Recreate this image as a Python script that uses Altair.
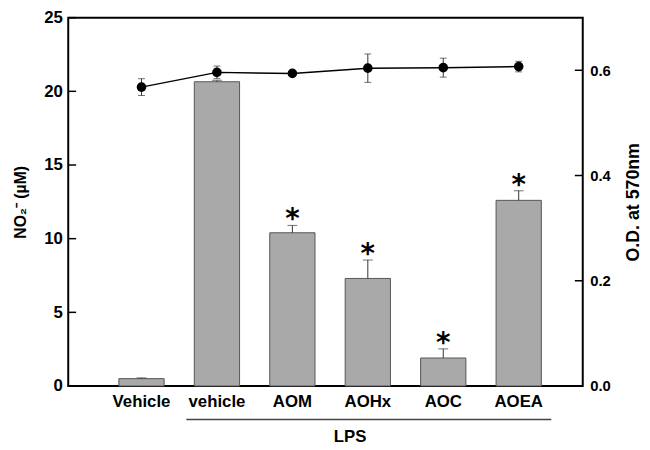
import altair as alt
import pandas as pd

categories = ["Vehicle", "vehicle", "AOM", "AOHx", "AOC", "AOEA"]
no2 = [0.5, 20.65, 10.4, 7.3, 1.9, 12.6]
no2_err = [0.05, 0.1, 0.5, 1.25, 0.62, 0.65]
sig = ["", "", "*", "*", "*", "*"]
od = [0.568, 0.596, 0.594, 0.604, 0.605, 0.607]
od_err = [0.016, 0.012, 0.003, 0.027, 0.018, 0.010]
ticks_left = [0, 5, 10, 15, 20, 25]
ticks_right = [0.0, 0.2, 0.4, 0.6]
group_label = ["LPS"]

df = pd.DataFrame({"cat": categories, "no2": no2, "no2_err": no2_err,
                   "sig": sig, "od": od, "od_err": od_err})
df["no2_hi"] = df["no2"] + df["no2_err"]
df["od_lo"] = df["od"] - df["od_err"]
df["od_hi"] = df["od"] + df["od_err"]

FONT = "Liberation Sans"
W, H = 521, 373

xscale = alt.Scale(domain=categories, paddingInner=0.4, paddingOuter=0.61, align=0.55)
xaxis = alt.Axis(title=None, labelAngle=0, ticks=False, domain=False,
                 labelFont=FONT, labelFontWeight="bold", labelFontSize=17,
                 labelPadding=8, labelColor="black")
X = alt.X("cat:N", scale=xscale, axis=xaxis)

yL = alt.Scale(domain=[0, 25], nice=False)
yR = alt.Scale(domain=[0, 0.7], nice=False)

axisL = alt.Axis(title="NO₂⁻ (µM)", values=ticks_left, ticks=False, domain=False,
                 grid=False, labelFont=FONT, labelFontWeight="bold", labelFontSize=17,
                 labelColor="black", labelPadding=6, titleFont=FONT,
                 titleFontWeight="bold", titleFontSize=16, titleColor="black",
                 titlePadding=15)
axisR = alt.Axis(title="O.D. at 570nm", orient="right", values=ticks_right, format=".1f",
                 ticks=False, domain=False, grid=False, labelFont=FONT,
                 labelFontWeight="bold", labelFontSize=15, labelColor="black",
                 labelPadding=7, titleFont=FONT, titleFontWeight="bold",
                 titleFontSize=18, titleColor="black", titleAngle=270, titlePadding=33)

base = alt.Chart(df)

bars = base.mark_bar(color="#a9a9a9", stroke="#555555", strokeWidth=1).encode(
    x=X, y=alt.Y("no2:Q", scale=yL, axis=axisL))
bar_err = base.mark_rule(color="#333333", strokeWidth=1).encode(
    x=X, y=alt.Y("no2:Q", scale=yL, axis=None), y2="no2_hi:Q")
bar_cap = base.mark_tick(size=10, thickness=1, color="#333333", orient="horizontal").encode(
    x=X, y=alt.Y("no2_hi:Q", scale=yL, axis=None))
stars = base.mark_text(font="DejaVu Sans", fontWeight="bold", fontSize=28,
                       baseline="alphabetic", dy=3, color="black").encode(
    x=X, y=alt.Y("no2_hi:Q", scale=yL, axis=None), text="sig:N")
tickL = alt.Chart(pd.DataFrame({"v": ticks_left})).mark_rule(color="black", strokeWidth=1.5).encode(
    y=alt.Y("v:Q", scale=yL, axis=None), x=alt.value(0), x2=alt.value(8))

lps_df = pd.DataFrame({"a": ["vehicle"], "b": ["AOEA"], "t": group_label, "m": ["AOHx"]})
lps_rule = alt.Chart(lps_df).mark_rule(color="#444444", strokeWidth=1.5,
                                       xOffset=-31, x2Offset=33).encode(
    x=alt.X("a:N", scale=xscale, axis=xaxis), x2="b:N",
    y=alt.value(407))
lps_text = alt.Chart(lps_df).mark_text(font=FONT, fontWeight="bold", fontSize=17,
                                       baseline="middle", dx=-18, color="black").encode(
    x=alt.X("m:N", scale=xscale, axis=xaxis), y=alt.value(425), text="t:N")

line = base.mark_line(color="black", strokeWidth=1.5).encode(
    x=X, y=alt.Y("od:Q", scale=yR, axis=axisR))
od_err_rule = base.mark_rule(color="#333333", strokeWidth=1).encode(
    x=X, y=alt.Y("od_lo:Q", scale=yR, axis=None), y2="od_hi:Q")
od_cap_lo = base.mark_tick(size=7, thickness=1, color="#333333", orient="horizontal").encode(
    x=X, y=alt.Y("od_lo:Q", scale=yR, axis=None))
od_cap_hi = base.mark_tick(size=7, thickness=1, color="#333333", orient="horizontal").encode(
    x=X, y=alt.Y("od_hi:Q", scale=yR, axis=None))
pts = base.mark_circle(size=95, color="black", opacity=1).encode(
    x=X, y=alt.Y("od:Q", scale=yR, axis=None))
tickR = alt.Chart(pd.DataFrame({"v": ticks_right})).mark_rule(color="black", strokeWidth=1.5).encode(
    y=alt.Y("v:Q", scale=yR, axis=None), x=alt.value(W - 8), x2=alt.value(W))

chart = alt.layer(
    bars, bar_err, bar_cap, stars, tickL, lps_rule, lps_text,
    line, od_err_rule, od_cap_lo, od_cap_hi, pts, tickR
).resolve_scale(y="independent").properties(
    width=W, height=H,
    autosize=alt.AutoSizeParams(type="none"),
    padding={"left": 61, "top": 7, "right": 60, "bottom": 60},
).configure_view(stroke="black", strokeWidth=2)

chart.save("out.html", embed_options={"renderer": "svg", "actions": False})
